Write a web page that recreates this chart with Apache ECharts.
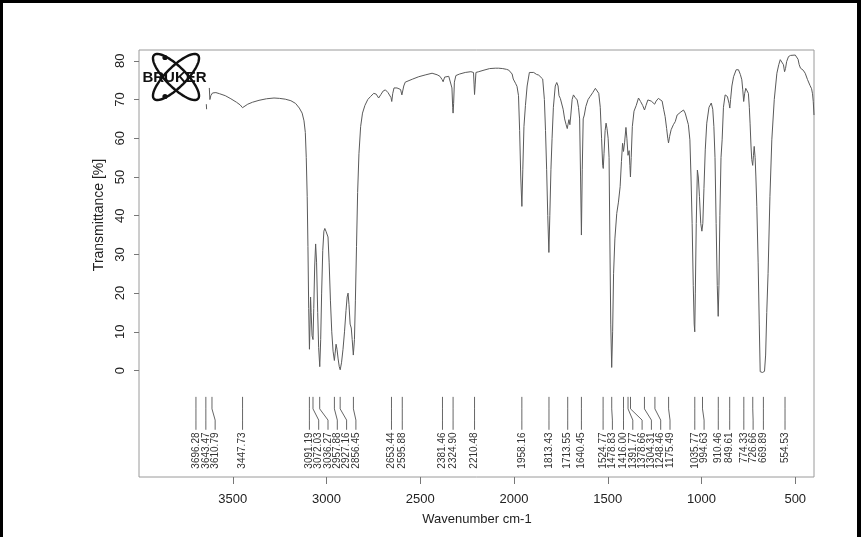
<!DOCTYPE html>
<html>
<head>
<meta charset="utf-8">
<script src="https://cdn.jsdelivr.net/npm/echarts@6/dist/echarts.min.js"></script>
<style>
html,body{margin:0;padding:0;background:#fff;}
#chart{width:861px;height:537px;}
</style>
</head>
<body>
<div id="chart"></div>
<script>
// ---- data ----
const wavenumbers = [
3625,3622,3617,3608,3590,3570,3540,3510,3480,3460,3448,3438,3420,3395,3360,3320,3280,3250,3220,3190,
3165,3145,3130,3120,3113,3108,3103,3099,3095,3091,3088,3085,3082,3077,3072,3068,3063,3058,3053,3047,
3042,3036,3031,3026,3020,3014,3009,3003,2998,2992,2986,2979,2972,2965,2958,2954,2949,2944,2938,2932,
2927,2920,2912,2904,2896,2890,2885,2880,2874,2868,2863,2857,2851,2846,2840,2834,2827,2818,2808,2795,
2780,2765,2748,2735,2722,2710,2698,2686,2672,2662,2656,2652,2647,2640,2633,2624,2615,2605,2598,2594,
2588,2580,2560,2540,2508,2470,2437,2410,2395,2384,2378,2370,2360,2348,2338,2331,2327,2325,2322,2318,
2310,2290,2260,2230,2216,2213,2210.5,2207,2203,2188,2160,2130,2100,2082,2060,2040,2028,2010,2004,1998,
1992,1984,1976,1970,1964,1958,1953,1947,1939,1930,1918,1908,1895,1880,1868,1858,1847,1838,1832,1826,
1820,1814,1809,1803,1797,1790,1780,1772,1765,1760,1753,1745,1738,1730,1722,1716,1712,1707,1702,1697,
1690,1683,1675,1668,1663,1656,1650,1645,1640.5,1636,1631,1625,1617,1605,1594,1580,1566,1558,1548,1540,
1533,1527,1524,1520,1514,1509,1504,1498,1493,1489,1484,1479,1474,1469,1462,1452,1443,1434,1427,1421,
1416,1410,1403,1398,1392,1386,1382,1379,1375,1369,1360,1348,1336,1325,1314,1304,1296,1286,1279,1268,
1258,1250,1242,1230,1220,1210,1202,1194,1186,1180,1176,1170,1162,1150,1140,1130,1120,1110,1096,1087,
1078,1070,1062,1056,1050,1044,1039,1036,1033,1028,1022,1017,1011,1004,998,993,987,980,972,960,
948,940,934,928,922,916,911,907,902,896,890,883,874,862,853,849,845,838,829,815,
803,793,785,780,775,770,764,757,750,745,741,736,732,727,723,719,714,710,705,698,
692,687,680,675,670,664,658,652,645,635,625,612,598,588,580,570,563,557,552,546,
536,525,515,500,490,485,479,472,465,458,447,435,421,413,408,404,400
];
const transmittance = [
73.0,70.0,71.0,71.7,71.8,71.5,71.0,70.2,69.3,68.6,67.9,68.3,68.8,69.3,69.8,70.2,70.4,70.3,70.1,69.7,
69.0,67.8,66.5,64.5,61.5,55.0,45.0,32.0,16.0,5.5,12.0,19.0,15.0,9.0,8.0,16.0,27.0,32.7,28.0,15.0,
6.0,1.0,8.0,20.0,31.0,36.0,36.7,36.0,35.5,34.5,28.0,18.0,10.0,5.0,2.6,4.5,6.8,5.5,3.0,1.0,
0.2,2.0,5.5,10.0,15.5,19.0,20.0,17.0,12.0,11.0,8.0,4.0,8.0,18.0,32.0,46.0,56.0,63.0,66.5,68.5,
70.0,70.8,71.6,71.4,70.4,71.3,72.2,72.5,71.8,71.9,70.5,69.5,71.5,73.0,73.4,73.0,72.6,72.6,71.2,71.0,
73.5,74.5,74.9,75.3,75.9,76.4,76.8,76.4,76.0,75.2,74.6,75.8,76.0,76.0,75.6,73.0,68.0,66.5,69.0,74.5,
76.2,76.6,77.0,77.2,77.0,74.0,71.3,74.0,77.0,77.2,77.6,78.0,78.1,78.1,78.0,77.8,77.6,76.6,75.3,75.0,
74.2,73.4,71.0,62.0,50.0,42.4,52.0,63.0,68.5,73.5,77.0,77.2,77.0,76.5,76.3,76.0,75.3,70.0,62.0,52.0,
40.0,30.5,40.0,52.0,60.0,68.0,73.5,74.4,73.5,71.0,70.3,70.0,67.5,65.0,63.5,62.5,63.6,64.8,63.5,66.0,
70.0,71.2,70.6,70.2,69.9,68.0,65.0,50.0,35.0,52.0,65.0,66.0,68.2,70.0,70.8,71.8,72.9,72.5,71.6,68.0,
60.0,53.0,52.2,56.0,62.0,63.9,62.5,60.0,55.0,35.0,12.0,0.8,10.0,25.0,34.0,40.6,43.5,47.5,54.0,58.7,
56.6,59.0,62.8,60.0,55.6,56.8,53.0,50.0,55.0,63.0,67.0,68.5,70.4,69.5,68.5,67.3,68.5,69.9,69.9,69.6,
69.7,68.8,69.6,70.3,70.4,69.6,67.5,65.6,62.5,60.0,58.8,60.5,62.2,63.5,64.3,66.0,65.8,66.8,67.3,66.5,
66.0,63.5,59.6,50.0,38.0,22.0,12.0,10.0,20.0,38.0,51.8,50.0,45.0,38.0,36.0,38.0,47.0,57.0,63.9,68.0,
69.1,67.5,63.0,55.0,38.0,22.0,14.0,22.0,40.0,55.0,59.6,68.0,71.2,70.8,69.0,67.8,70.0,73.5,75.9,77.7,
77.7,76.5,75.1,72.5,69.5,71.5,72.9,72.4,71.6,68.0,63.9,58.0,54.5,53.0,55.5,57.9,55.0,50.0,42.4,28.0,
12.0,-0.3,-0.5,-0.5,-0.4,-0.2,4.0,15.0,25.1,45.0,59.6,70.0,76.8,79.0,80.3,80.0,79.0,77.2,78.0,79.8,
81.1,81.4,81.5,81.5,81.0,80.4,79.0,78.1,77.9,77.6,76.8,75.2,73.6,72.8,71.5,69.5,66.0
];
const isolatedWavenumbers = [3641, 3639.5];
const isolatedTransmittance = [68.8, 67.5];

const peakWavenumbers = [
3696.28,3643.47,3610.79,3447.73,3091.19,3072.03,3036.27,2957.88,2927.16,2856.45,
2653.44,2595.88,2381.46,2324.90,2210.48,1958.16,1813.43,1713.55,1640.45,1524.77,
1478.83,1416.00,1391.77,1378.66,1304.31,1248.46,1175.49,1035.77,994.63,910.46,
849.61,774.33,726.66,669.89,554.53
];
const peakLabels = [
'3696.28','3643.47','3610.79','3447.73','3091.19','3072.03','3036.27','2957.88','2927.16','2856.45',
'2653.44','2595.88','2381.46','2324.90','2210.48','1958.16','1813.43','1713.55','1640.45','1524.77',
'1478.83','1416.00','1391.77','1378.66','1304.31','1248.46','1175.49','1035.77','994.63','910.46',
'849.61','774.33','726.66','669.89','554.53'
];
const xTickValues = [3500,3000,2500,2000,1500,1000,500];
const yTickValues = [0,10,20,30,40,50,60,70,80];

// ---- layout helpers ----
const FONT = 'Liberation Sans, Arial, Helvetica, sans-serif';
const X_MIN = 400, X_MAX = 4000, Y_MIN = -27.5, Y_MAX = 82.8;
const LABEL_GAP = 49.6; // minimum label spacing along the axis (cm-1)
// y levels (data units) of the peak-marker connector
const LV = {top:-6.8, bend1:-9.9, bend2:-12.8, bottom:-15.3, text:-16.0};

const spectrum = wavenumbers.map((w, i) => [w, transmittance[i]]);
const isolated = isolatedWavenumbers.map((w, i) => [w, isolatedTransmittance[i]]);

// push labels apart (greedy, toward lower wavenumber)
const labelPos = [];
peakWavenumbers.forEach((w, i) => {
  let lw = w;
  if (i > 0) lw = Math.min(w, labelPos[i - 1] - LABEL_GAP);
  labelPos.push(lw);
});
const peakData = peakWavenumbers.map((w, i) => [w, labelPos[i], i]);

// BRUKER logo orbit polygons
function orbit(cx, cy, a, b, ang) {
  const pts = [];
  for (let k = 0; k < 72; k++) {
    const t = k / 72 * Math.PI * 2;
    const x = a * Math.cos(t), y = b * Math.sin(t);
    pts.push([cx + x * Math.cos(ang) - y * Math.sin(ang), cy + x * Math.sin(ang) + y * Math.cos(ang)]);
  }
  return pts;
}

const chart = echarts.init(document.getElementById('chart'), null, {renderer: 'canvas'});
chart.setOption({
  animation: false,
  backgroundColor: '#ffffff',
  grid: {left: 139, right: 47, top: 50, bottom: 60, show: true, borderColor: '#9a9a9a', borderWidth: 1, containLabel: false},
  xAxis: {
    type: 'value', min: X_MIN, max: X_MAX, inverse: true,
    axisLine: {show: false, onZero: false},
    splitLine: {show: false},
    axisTick: {show: true, length: 7, lineStyle: {color: '#777', width: 1}, customValues: xTickValues},
    axisLabel: {show: true, customValues: xTickValues, margin: 16, fontSize: 13, color: '#222', fontFamily: FONT,
      formatter: v => String(v)}
  },
  yAxis: {
    type: 'value', min: Y_MIN, max: Y_MAX,
    axisLine: {show: false, onZero: false},
    splitLine: {show: false},
    axisTick: {show: true, length: 5, lineStyle: {color: '#777', width: 1}, customValues: yTickValues},
    axisLabel: {show: true, customValues: yTickValues, rotate: 90, margin: 12, fontSize: 13, color: '#222', fontFamily: FONT,
      formatter: v => String(v)}
  },
  series: [
    {type: 'line', data: spectrum, showSymbol: false, symbol: 'none', lineStyle: {color: '#5a5a5a', width: 1}, silent: true},
    {type: 'line', data: isolated, showSymbol: false, symbol: 'none', lineStyle: {color: '#5a5a5a', width: 1}, silent: true},
    {
      type: 'custom', silent: true, clip: false,
      data: peakData,
      renderItem: function (params, api) {
        const w = api.value(0), lw = api.value(1), idx = api.value(2);
        const a = api.coord([w, LV.top]);
        const b = api.coord([w, LV.bend1]);
        const c = api.coord([lw, LV.bend2]);
        const d = api.coord([lw, LV.bottom]);
        const t = api.coord([lw, LV.text]);
        return {
          type: 'group',
          children: [
            {type: 'polyline', shape: {points: [a, b, c, d]}, style: {stroke: '#666', lineWidth: 1, fill: null}},
            {type: 'text', x: t[0], y: t[1], rotation: Math.PI / 2,
              style: {text: peakLabels[idx], fontSize: 10, fontFamily: FONT, fill: '#333', align: 'right', verticalAlign: 'middle'}}
          ]
        };
      }
    }
  ],
  graphic: [
    {type: 'text', x: 99, y: 215, rotation: Math.PI / 2,
      style: {text: 'Transmittance [%]', fontSize: 14, fontFamily: FONT, fill: '#222', align: 'center', verticalAlign: 'middle'}},
    {type: 'text', x: 477, y: 519,
      style: {text: 'Wavenumber cm-1', fontSize: 13, fontFamily: FONT, fill: '#222', align: 'center', verticalAlign: 'middle'}},
    // BRUKER logo
    {type: 'polygon', shape: {points: orbit(176, 77, 31, 10, Math.PI / 4)}, style: {fill: null, stroke: '#111', lineWidth: 2.4}},
    {type: 'polygon', shape: {points: orbit(176, 77, 31, 10, -Math.PI / 4)}, style: {fill: null, stroke: '#111', lineWidth: 2.4}},
    {type: 'circle', shape: {cx: 165, cy: 57.5, r: 2.6}, style: {fill: '#111'}},
    {type: 'circle', shape: {cx: 165, cy: 96.5, r: 2.6}, style: {fill: '#111'}},
    {type: 'text', x: 174.5, y: 77.5,
      style: {text: 'BRUKER', fontSize: 15, fontWeight: 'bold', fontFamily: FONT, fill: '#111', align: 'center', verticalAlign: 'middle'}},
    // scanned page border
    {type: 'rect', shape: {x: 0, y: 0, width: 861, height: 3}, style: {fill: '#000'}},
    {type: 'rect', shape: {x: 0, y: 0, width: 3, height: 537}, style: {fill: '#000'}},
    {type: 'rect', shape: {x: 857, y: 0, width: 4, height: 537}, style: {fill: '#000'}}
  ]
});
</script>
</body>
</html>
